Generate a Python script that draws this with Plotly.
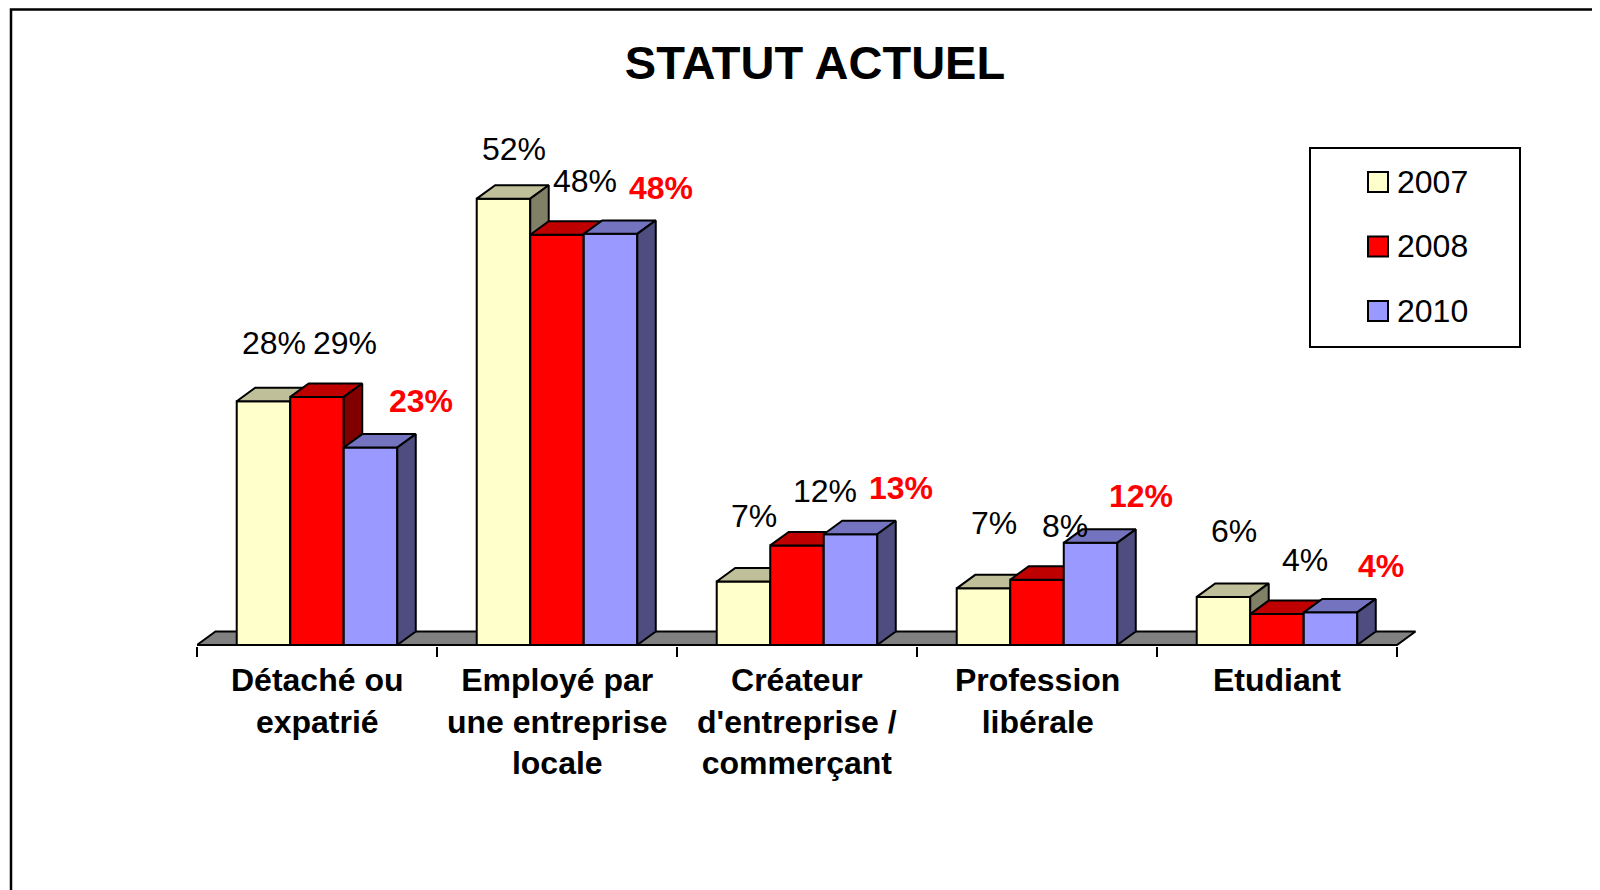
import plotly.graph_objects as go

# Données
categories = ["Détaché ou<br>expatrié", "Employé par<br>une entreprise<br>locale",
              "Créateur<br>d'entreprise /<br>commerçant", "Profession<br>libérale", "Etudiant"]
annees = ["2007", "2008", "2010"]
val_2007 = [28.4, 52.0, 7.4, 6.6, 5.6]
val_2008 = [28.9, 47.8, 11.6, 7.6, 3.6]
val_2010 = [23.0, 47.9, 12.9, 11.9, 3.8]

series = [val_2007, val_2008, val_2010]
faces = {  # face avant, dessus, côté
    "2007": ("#FFFFCC", "#BFBF99", "#808066"),
    "2008": ("#FF0000", "#BF0000", "#800000"),
    "2010": ("#9999FF", "#7373BF", "#4D4D80"),
}
FONT = "Liberation Sans, Arial, sans-serif"

W, H = 1600, 890
OFF = 8  # marge du body de la page html
ML, MR, MT, MB = 189, 158, 122, 252
PW, PH = W - ML - MR, H - MT - MB


def px(p):
    return (p - OFF - ML) / PW


def py(p):
    return (H - MB - (p - OFF)) / PH


bar_w = 0.223
offsets = [-bar_w, 0, bar_w]
dx, dy = 0.077, 1.57          # profondeur 3D
lab_dx = [0.045, 0.115, 0.21]  # décalage des étiquettes
lab_k = [0.96, 1.0, 1.0]
lab_dy = [7.9, 6.3, 5.4]

fig = go.Figure()

# sol gris
n = len(categories)
fig.add_trace(go.Scatter(
    x=[-0.5, n - 0.5, n - 0.5 + dx, -0.5 + dx, -0.5],
    y=[0, 0, dy, dy, 0],
    mode="lines", fill="toself", fillcolor="#808080",
    line=dict(color="black", width=2), hoverinfo="skip", showlegend=False))


def poly(kind, vals, off):
    xs, ys = [], []
    for i, v in enumerate(vals):
        l, r = i + off - bar_w / 2, i + off + bar_w / 2
        if kind == "front":
            xs += [l, r, r, l, l, None]
            ys += [0, 0, v, v, 0, None]
        elif kind == "top":
            xs += [l, r, r + dx, l + dx, l, None]
            ys += [v, v, v + dy, v + dy, v, None]
        else:
            xs += [r, r + dx, r + dx, r, r, None]
            ys += [0, dy, v + dy, v, 0, None]
    return xs, ys


for k, (an, vals) in enumerate(zip(annees, series)):
    for kind, col in zip(["front", "top", "side"], faces[an]):
        xs, ys = poly(kind, vals, offsets[k])
        fig.add_trace(go.Scatter(
            x=xs, y=ys, mode="lines", fill="toself", fillcolor=col,
            line=dict(color="black", width=2), name=an,
            hoverinfo="skip", showlegend=False))

    # étiquettes de données
    for i, v in enumerate(vals):
        red = an == "2010"
        fig.add_annotation(
            x=i + offsets[k] + lab_dx[k], y=v * lab_k[k] + lab_dy[k],
            text=f"<b>{v:.0f}%</b>" if red else f"{v:.0f}%",
            showarrow=False, xanchor="center", yanchor="middle",
            font=dict(family=FONT, size=32, color="#FF0000" if red else "black"))

# libellés des catégories
for i, c in enumerate(categories):
    fig.add_annotation(
        x=i, y=py(660), yref="paper", text=f"<b>{c}</b>",
        showarrow=False, xanchor="center", yanchor="top",
        font=dict(family=FONT, size=32, color="black"))

# légende
fig.add_shape(type="rect", xref="paper", yref="paper",
              x0=px(1310), x1=px(1520), y0=py(347), y1=py(148),
              line=dict(color="black", width=2), fillcolor="white")
for j, an in enumerate(annees):
    cy = 182 + 64.5 * j
    fig.add_shape(type="rect", xref="paper", yref="paper",
                  x0=px(1368), x1=px(1388), y0=py(cy + 10), y1=py(cy - 10),
                  line=dict(color="black", width=2), fillcolor=faces[an][0])
    fig.add_annotation(x=px(1395), y=py(cy), xref="paper", yref="paper",
                       text=an, showarrow=False, xanchor="left", yanchor="middle",
                       font=dict(family=FONT, size=32, color="black"))

# cadre
fig.add_shape(type="rect", xref="paper", yref="paper",
              x0=px(11), x1=px(1700), y0=py(1000), y1=py(OFF + 1.5),
              line=dict(color="black", width=2.5), layer="below")

fig.update_layout(
    width=W, height=H,
    margin=dict(l=ML, r=MR, t=MT, b=MB),
    plot_bgcolor="white", paper_bgcolor="white",
    title=dict(text="<b>STATUT ACTUEL</b>", x=px(815), xref="paper", xanchor="center",
               y=1 - (63 - OFF) / H, yref="container", yanchor="middle",
               font=dict(family=FONT, size=47, color="black")),
    showlegend=False,
)
fig.update_xaxes(range=[-0.5, -0.5 + PW / 240], showgrid=False, zeroline=False,
                 showline=False, tickvals=[i - 0.5 for i in range(n + 1)],
                 showticklabels=False, ticks="outside", ticklen=10,
                 tickwidth=2, tickcolor="black")
fig.update_yaxes(range=[-0.12, 60], visible=False)

fig.write_html("out.html")
